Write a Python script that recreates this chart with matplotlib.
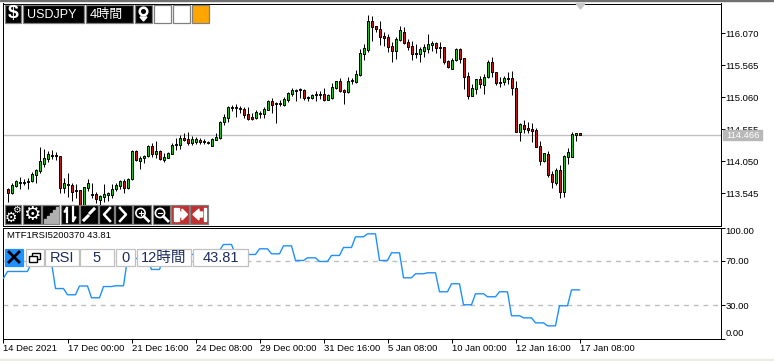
#!/usr/bin/env python3
"""
USDJPY 4h candles with a 12h RSI pane, MT5 style screenshot
"""
import numpy as np
import matplotlib
matplotlib.use('Agg')
import matplotlib.pyplot as plt
from matplotlib.patches import Rectangle, Circle, Polygon

opens = [113.609, 113.550, 113.661, 113.711, 113.727, 113.743, 113.740, 113.834, 113.897, 114.003, 114.087, 114.137,
         114.140, 114.129, 113.629, 113.672, 113.667, 113.588, 113.593, 113.309, 113.629, 113.530, 113.525, 113.440,
         113.487, 113.522, 113.514, 113.613, 113.661, 113.735, 113.624, 113.766, 114.208, 114.055, 114.102, 114.125,
         114.287, 114.161, 114.203, 114.071, 114.098, 114.161, 114.303, 114.298, 114.409, 114.393, 114.339, 114.346,
         114.387, 114.366, 114.350, 114.292, 114.382, 114.413, 114.661, 114.729, 114.882, 114.898, 114.887, 114.871,
         114.792, 114.745, 114.734, 114.792, 114.792, 114.860, 114.992, 114.970, 114.950, 114.939, 115.013, 115.108,
         115.160, 115.166, 115.171, 115.065, 115.049, 115.087, 115.092, 115.108, 115.018, 115.045, 115.198, 115.313,
         115.171, 115.135, 115.308, 115.302, 115.408, 115.739, 115.802, 116.260, 116.176, 116.133, 116.023, 116.007,
         115.865, 115.791, 115.960, 116.086, 115.928, 115.865, 115.755, 115.739, 115.791, 115.813, 115.886, 115.908,
         115.849, 115.845, 115.624, 115.507, 115.639, 115.813, 115.671, 115.392, 115.081, 115.182, 115.340, 115.254,
         115.371, 115.608, 115.450, 115.297, 115.292, 115.344, 115.355, 115.198, 114.513, 114.614, 114.566, 114.555,
         114.540, 114.287, 114.050, 114.161, 113.841, 113.708, 113.908, 113.566, 114.118, 114.109, 114.466, 114.487]
highs = [113.620, 113.703, 113.751, 113.793, 113.766, 113.777, 113.872, 113.919, 114.267, 114.240, 114.208, 114.224,
         114.188, 114.129, 113.782, 113.856, 113.703, 113.687, 113.593, 113.646, 113.762, 113.698, 113.566, 113.514,
         113.683, 113.566, 113.687, 113.698, 113.751, 113.766, 113.777, 114.224, 114.224, 114.134, 114.145, 114.303,
         114.330, 114.366, 114.224, 114.172, 114.197, 114.339, 114.409, 114.461, 114.487, 114.503, 114.450, 114.434,
         114.409, 114.393, 114.371, 114.409, 114.487, 114.677, 114.792, 114.918, 114.934, 114.945, 114.918, 114.907,
         114.898, 114.803, 114.855, 114.844, 114.898, 115.013, 115.045, 114.986, 115.013, 115.056, 115.135, 115.202,
         115.187, 115.202, 115.182, 115.081, 115.112, 115.150, 115.150, 115.198, 115.108, 115.286, 115.318, 115.355,
         115.187, 115.371, 115.355, 115.486, 115.818, 115.892, 116.354, 116.339, 116.176, 116.260, 116.091, 116.050,
         115.933, 116.002, 116.181, 116.170, 115.976, 115.949, 115.897, 115.845, 115.897, 116.054, 115.944, 115.933,
         115.923, 115.849, 115.644, 115.671, 115.838, 115.829, 115.680, 115.450, 115.261, 115.349, 115.392, 115.419,
         115.644, 115.687, 115.455, 115.381, 115.392, 115.460, 115.471, 115.313, 114.645, 114.697, 114.666, 114.645,
         114.571, 114.371, 114.172, 114.213, 113.893, 113.940, 113.987, 114.145, 114.251, 114.503, 114.487, 114.487]
lows = [113.403, 113.530, 113.645, 113.613, 113.672, 113.613, 113.724, 113.698, 113.866, 113.951, 114.030, 114.077,
        114.066, 113.545, 113.550, 113.487, 113.424, 113.471, 113.245, 113.245, 113.577, 113.467, 113.383, 113.324,
        113.408, 113.424, 113.467, 113.582, 113.613, 113.550, 113.613, 113.758, 114.055, 113.924, 114.014, 114.118,
        114.118, 114.093, 114.066, 114.039, 114.093, 114.161, 114.224, 114.235, 114.366, 114.303, 114.303, 114.319,
        114.319, 114.319, 114.319, 114.292, 114.382, 114.402, 114.619, 114.671, 114.839, 114.740, 114.803, 114.724,
        114.697, 114.697, 114.718, 114.724, 114.729, 114.855, 114.813, 114.655, 114.918, 114.918, 114.986, 115.076,
        115.002, 115.049, 115.018, 115.002, 115.029, 114.992, 115.024, 114.997, 115.013, 115.024, 115.187, 115.144,
        114.945, 115.128, 115.265, 115.286, 115.392, 115.644, 115.775, 115.949, 116.081, 115.881, 115.865, 115.775,
        115.617, 115.660, 115.949, 115.897, 115.802, 115.644, 115.671, 115.613, 115.696, 115.759, 115.791, 115.750,
        115.671, 115.581, 115.513, 115.502, 115.633, 115.602, 115.182, 115.034, 115.081, 115.108, 115.202, 115.108,
        115.355, 115.371, 115.250, 115.223, 115.254, 115.265, 115.097, 114.513, 114.371, 114.487, 114.487, 114.355,
        114.276, 113.987, 114.039, 113.793, 113.629, 113.672, 113.471, 113.487, 114.003, 114.109, 114.371, 114.466]
closes = [113.545, 113.667, 113.735, 113.724, 113.711, 113.727, 113.841, 113.904, 114.046, 114.093, 114.156, 114.153,
          114.129, 113.629, 113.711, 113.683, 113.561, 113.572, 113.309, 113.635, 113.698, 113.514, 113.446, 113.498,
          113.525, 113.538, 113.613, 113.672, 113.735, 113.620, 113.766, 114.208, 114.066, 114.102, 114.125, 114.287,
          114.161, 114.203, 114.082, 114.109, 114.172, 114.298, 114.323, 114.413, 114.387, 114.339, 114.393, 114.398,
          114.350, 114.346, 114.339, 114.393, 114.429, 114.666, 114.749, 114.903, 114.903, 114.887, 114.866, 114.781,
          114.718, 114.718, 114.824, 114.813, 114.866, 114.992, 114.939, 114.945, 114.970, 115.029, 115.119, 115.171,
          115.176, 115.182, 115.045, 115.049, 115.092, 115.108, 115.108, 115.013, 115.092, 115.213, 115.308, 115.160,
          115.135, 115.308, 115.329, 115.419, 115.750, 115.829, 116.260, 116.170, 116.133, 116.012, 115.996, 115.854,
          115.791, 115.976, 116.113, 115.908, 115.854, 115.739, 115.739, 115.813, 115.845, 115.897, 115.917, 115.834,
          115.838, 115.617, 115.538, 115.639, 115.813, 115.665, 115.381, 115.081, 115.198, 115.340, 115.265, 115.371,
          115.608, 115.450, 115.286, 115.277, 115.355, 115.360, 115.198, 114.513, 114.634, 114.560, 114.544, 114.529,
          114.276, 114.055, 114.172, 113.830, 113.714, 113.904, 113.566, 114.129, 114.188, 114.472, 114.487, 114.466]

# RSI is a 12h series, so it holds one value for every three 4h bars
rsi_first = 54.3
rsi_12h = [60.4, 60.4, 68.5, 68.5, 45.0, 39.4, 47.3, 36.7, 46.8, 47.5, 72.1, 72.1,
           62.2, 72.1, 73.9, 75.7, 75.7, 79.3, 84.7, 75.7, 75.7, 80.8, 76.3, 83.5,
           70.3, 72.7, 69.4, 74.8, 82.0, 91.6, 94.3, 70.3, 77.2, 54.7, 58.3, 59.2,
           42.1, 49.3, 30.4, 40.3, 37.6, 42.1, 20.5, 18.6, 14.1, 11.4, 29.5, 43.81]

price_ticks = [116.070, 115.565, 115.060, 114.555, 114.050, 113.545]
last_price = 114.466
rsi_ticks = [100, 70, 30, 0]
rsi_levels = [70, 30]
date_labels = ['14 Dec 2021', '17 Dec 00:00', '21 Dec 16:00', '24 Dec 08:00', '29 Dec 00:00',
               '31 Dec 16:00', '5 Jan 08:00', '10 Jan 00:00', '12 Jan 16:00', '17 Jan 08:00']

W, H = 774, 361
FONT = ['Liberation Sans', 'Noto Sans CJK JP', 'DejaVu Sans']
plt.rcParams['font.family'] = FONT
PX = 0.72
LABEL_SIZE = 6.8


def axes_px(fig, x0, y0, x1, y1):
    return fig.add_axes([x0 / W, 1 - y1 / H, (x1 - x0) / W, (y1 - y0) / H])


def style_frame(ax):
    for s in ax.spines.values():
        s.set_linewidth(PX)
        s.set_color('black')
    ax.yaxis.tick_right()
    ax.tick_params(axis='y', length=2.9, width=PX, labelsize=LABEL_SIZE, pad=0.8)


def draw_candles(ax):
    x = np.arange(1, len(opens) + 1)
    o, h, l, c = map(np.array, (opens, highs, lows, closes))
    ax.vlines(x, l, h, color='black', linewidth=PX, zorder=3)
    colors = np.where(c >= o, '#14C814', '#C81414')
    ax.bar(x, np.abs(c - o), bottom=np.minimum(o, c), width=0.5, color=colors,
           edgecolor='black', linewidth=PX, zorder=4)


def box(ov, x0, y0, x1, y1, fc='black', ec='#808080', lw=0.9):
    ov.add_patch(Rectangle((x0, y0), x1 - x0, y1 - y0, facecolor=fc, edgecolor=ec, linewidth=lw))


def draw_buttons(ov):
    # top row
    for x0, x1 in [(5, 21), (23, 84), (86, 133), (135, 152)]:
        box(ov, x0, 5, x1, 23)
    box(ov, 154, 5, 171, 23, fc='white')
    box(ov, 173, 5, 190, 23, fc='white')
    box(ov, 192, 5, 209, 23, fc='#FFA500')
    ov.text(13, 14, '$', color='white', fontsize=14, fontweight='bold', ha='center', va='center')
    ov.text(27, 14.5, 'USDJPY', color='white', fontsize=9, va='center')
    ov.text(90, 14.5, '4時間', color='white', fontsize=9.4, va='center')
    ov.add_patch(Circle((143.5, 11.5), 3.8, facecolor='black', edgecolor='white', linewidth=1.8))
    ov.add_patch(Polygon([(140, 17), (147, 17), (143.5, 21)], color='white'))

    # bottom toolbar
    tool_x = [(5, 21), (23, 41), (42, 59), (61, 79), (80, 98), (99, 114),
              (115, 132), (133, 151), (153, 170), (171, 189), (190, 208)]
    for i, (x0, x1) in enumerate(tool_x):
        box(ov, x0, 205, x1, 224, fc='#C03030' if i >= 9 else 'black')
    # gears
    ov.text(10.5, 217.5, '\u2699', color='white', fontsize=10, ha='center', va='center', family='DejaVu Sans')
    ov.text(16.5, 210, '\u2699', color='white', fontsize=7, ha='center', va='center', family='DejaVu Sans')
    ov.text(32, 214.5, '\u2699', color='white', fontsize=14, ha='center', va='center', family='DejaVu Sans')
    # bars
    for i, top in enumerate([219, 216, 213, 210, 207]):
        ov.add_patch(Rectangle((44 + i * 3, top), 2.4, 223 - top, color='#B0B0B0'))
    # up/down arrows
    ov.plot([67, 67], [222, 208], color='white', lw=1.6)
    ov.plot([73, 73], [207, 221], color='white', lw=1.6)
    ov.add_patch(Polygon([(64, 212), (67, 207), (67, 212)], color='white'))
    ov.add_patch(Polygon([(73, 222), (76, 217), (73, 217)], color='white'))
    # link
    ov.plot([84, 88], [220, 216], color='white', lw=2.2)
    ov.plot([90, 94], [213, 209], color='white', lw=2.2)
    # chevrons
    ov.plot([110, 104, 110], [208, 214.5, 221], color='white', lw=1.8)
    ov.plot([120, 126, 120], [208, 214.5, 221], color='white', lw=1.8)
    # zoom lenses
    for cx in [140.5, 160]:
        ov.add_patch(Circle((cx, 213), 4.6, facecolor='black', edgecolor='white', linewidth=1.2))
        ov.plot([cx + 3.5, cx + 8], [216.5, 221], color='white', lw=2)
    ov.plot([138.5, 142.5], [213, 213], color='white', lw=0.8)
    ov.plot([140.5, 140.5], [211, 215], color='white', lw=0.8)
    ov.plot([158, 162], [213, 213], color='white', lw=0.8)
    # red arrows
    ov.add_patch(Rectangle((174, 208), 2.5, 13, color='white'))
    ov.add_patch(Rectangle((177.5, 208), 1.5, 13, color='white'))
    ov.add_patch(Polygon([(180, 212), (182, 212), (182, 209), (187.5, 214.5), (182, 220), (182, 217), (180, 217)], color='white'))
    ov.add_patch(Rectangle((203.5, 208), 2.5, 13, color='white'))
    ov.add_patch(Polygon([(202.5, 212), (199, 212), (199, 209), (193, 214.5), (199, 220), (199, 217), (202.5, 217)], color='white'))

    # pane buttons
    box(ov, 5, 249, 23, 265.5, fc='#1E90FF', ec='#1E90FF')
    ov.plot([9, 19], [252, 262], color='black', lw=2)
    ov.plot([19, 9], [252, 262], color='black', lw=2)
    box(ov, 26, 249, 44, 265.5, fc='white', ec='#C0C0C0')
    ov.add_patch(Rectangle((32, 253), 8, 6, fill=False, edgecolor='black', linewidth=1))
    ov.add_patch(Rectangle((29, 256), 8, 6, facecolor='white', edgecolor='black', linewidth=1))
    fields = [(45, 79, 'RSI'), (80, 114, '5'), (116, 135, '0'), (137, 191, '12時間'), (193, 248, '43.81')]
    for x0, x1, label in fields:
        box(ov, x0, 249, x1, 265.5, fc='white', ec='#C0C0C0')
        ov.text((x0 + x1) / 2, 257.5, label, color='#1C2C60', fontsize=10.5, ha='center', va='center')


def main():
    fig = plt.figure(figsize=(W / 100, H / 100), dpi=100, facecolor='white')

    # main pane
    ax = axes_px(fig, 3.5, 3.5, 720.5, 225.5)
    style_frame(ax)
    ax.set_xlim(0, 179.25)
    ax.set_ylim(113.033, 116.536)
    ax.set_xticks([])
    ax.set_yticks(price_ticks)
    ax.set_yticklabels([f'{v:.3f}' for v in price_ticks])
    ax.axhline(last_price, color='#C0C0C0', linewidth=1, zorder=1)
    draw_candles(ax)

    # RSI pane
    ax2 = axes_px(fig, 3.5, 227.5, 720.5, 338.5)
    style_frame(ax2)
    ax2.set_xlim(0, 179.25)
    ax2.set_ylim(0, 100)
    ax2.set_yticks(rsi_ticks)
    labels = ax2.set_yticklabels([f'{v:.2f}' for v in rsi_ticks])
    labels[0].set_verticalalignment('top')
    labels[-1].set_verticalalignment('bottom')
    for level in rsi_levels:
        ax2.axhline(level, color='#BDBDC4', linewidth=1, dashes=(3.5, 3.5), zorder=1)
    rsi = np.concatenate([[rsi_first], np.repeat(rsi_12h, 3)])
    ax2.plot(np.arange(len(rsi)), rsi, color='#1E90FF', linewidth=1, zorder=3)
    ax2.set_xticks(np.arange(len(date_labels)) * 16)
    ax2.set_xticklabels(date_labels, ha='left', fontsize=LABEL_SIZE)
    ax2.tick_params(axis='x', length=2.9, width=PX, pad=1.2)
    ax2.text(0.005, 0.925, 'MTF1RSI5200370 43.81', transform=ax2.transAxes, fontsize=LABEL_SIZE, va='center', zorder=6)

    # overlay in pixel coordinates for the buttons and strips
    ov = fig.add_axes([0, 0, 1, 1], zorder=10)
    ov.set_xlim(0, W)
    ov.set_ylim(H, 0)
    ov.axis('off')
    ov.add_patch(Rectangle((0, 0), W, 1.2, color='#707070'))
    ov.add_patch(Rectangle((0, 358.5), W, 2.5, color='#ECECE6'))
    ov.add_patch(Polygon([(576, 3.5), (585, 3.5), (580.5, 9)], color='#C8C8C8'))
    ov.add_patch(Rectangle((723, 130), 39, 10, color='#B8B8B8'))
    ov.text(742.5, 135.2, f'{last_price:.3f}', color='white', fontsize=LABEL_SIZE, ha='center', va='center')
    draw_buttons(ov)

    fig.savefig('out.png', dpi=100)


if __name__ == "__main__":
    main()
